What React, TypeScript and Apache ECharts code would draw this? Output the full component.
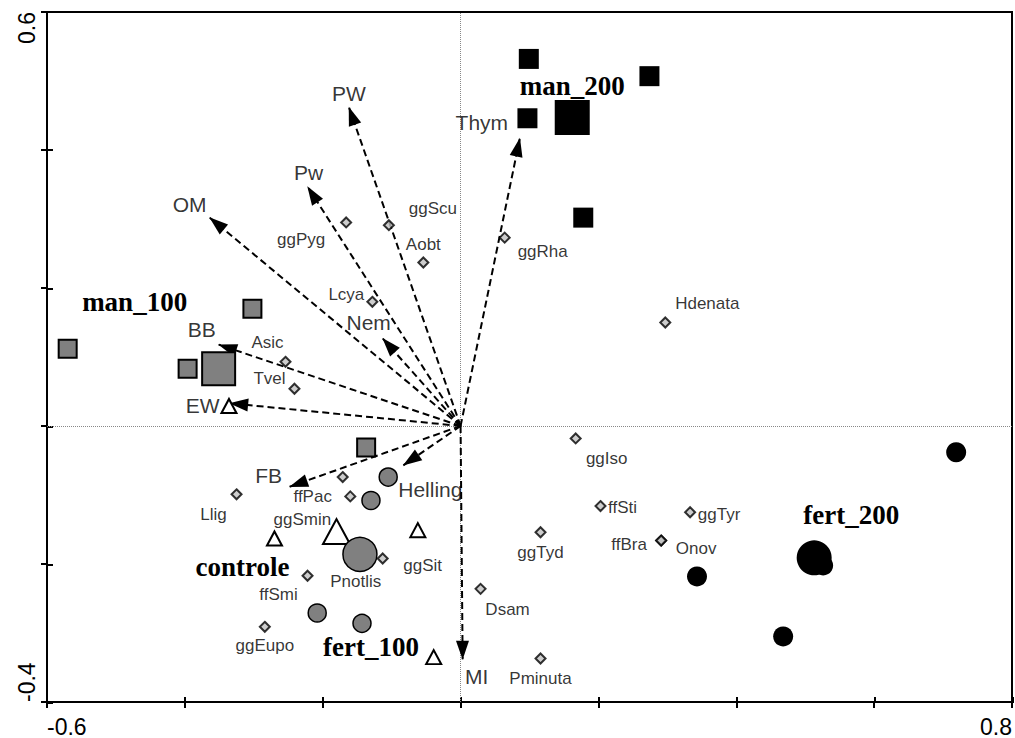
import React, { useEffect, useRef } from 'react';
import * as echarts from 'echarts';

// ---------- DATA ----------
const xTickLabels = ['-0.6', '0.8'];
const yTickLabels = ['-0.4', '0.6'];

const groupNames = ['man_200', 'man_100', 'controle', 'fert_100', 'fert_200'];

const man200Sites = [[0.099, 0.532], [0.274, 0.507], [0.097, 0.446], [0.178, 0.302]];
const man100Sites = [[-0.570, 0.112], [-0.302, 0.170], [-0.396, 0.083], [-0.137, -0.031]];
const controleSites = [[-0.336, 0.029], [-0.270, -0.163], [-0.062, -0.151], [-0.039, -0.335]];
const fert100Sites = [[-0.105, -0.074], [-0.130, -0.108], [-0.208, -0.271], [-0.143, -0.286]];
const fert200Sites = [[0.719, -0.038], [0.343, -0.218], [0.468, -0.305], [0.526, -0.202]];

const groupCentroids = [
  [0.162, 0.447],
  [-0.351, 0.083],
  [-0.180, -0.153],
  [-0.146, -0.186],
  [0.513, -0.191],
];

const speciesNames = ['ggPyg', 'ggScu', 'Aobt', 'ggRha', 'Lcya', 'Asic', 'Tvel', 'Hdenata', 'ggIso', 'ffSti', 'ggTyr', 'ffBra', 'Onov', 'ggTyd', 'Dsam', 'Pminuta', 'ggSit', 'Pnotlis', 'ffPac', 'ggSmin', 'Llig', 'ggEupo', 'ffSmi'];
const speciesX = [-0.166, -0.104, -0.054, 0.064, -0.128, -0.254, -0.241, 0.297, 0.167, 0.203, 0.333, 0.291, 0.291, 0.116, 0.029, 0.116, -0.113, -0.152, -0.171, -0.160, -0.325, -0.284, -0.222];
const speciesY = [0.295, 0.291, 0.237, 0.273, 0.180, 0.093, 0.054, 0.150, -0.018, -0.116, -0.125, -0.166, -0.166, -0.154, -0.236, -0.337, -0.192, -0.196, -0.074, -0.102, -0.099, -0.291, -0.217];

const envNames = ['PW', 'Pw', 'OM', 'BB', 'EW', 'FB', 'Nem', 'Helling', 'MI', 'Thym'];
const envX = [-0.162, -0.222, -0.364, -0.351, -0.335, -0.248, -0.113, -0.083, 0.003, 0.086];
const envY = [0.462, 0.347, 0.302, 0.118, 0.033, -0.088, 0.127, -0.057, -0.338, 0.417];

// ---------- LAYOUT / STYLE (label placement in px) ----------
const speciesLabelOffsets: Record<string, number[]> = {
  ggPyg: [-45, 17], ggScu: [44, -17], Aobt: [0, -18], ggRha: [38, 14], Lcya: [-26, -7],
  Asic: [-18, -19], Tvel: [-25, -10], Hdenata: [42, -19], ggIso: [31, 20], ffSti: [22, 1],
  ggTyr: [29, 2], ffBra: [-32, 4], Onov: [35, 8], ggTyd: [0, 20], Dsam: [27, 21],
  Pminuta: [0, 20], ggSit: [40, 7], Pnotlis: [0, 20], ffPac: [-30, 19], ggSmin: [-48, 23],
  Llig: [-23, 20], ggEupo: [0, 19], ffSmi: [-29, 19],
};
const envLabelOffsets: Record<string, number[]> = {
  PW: [0, -14], Pw: [1, -14], OM: [-20, -13], BB: [-17, -15], EW: [-27, 2],
  FB: [-21, -11], Nem: [-14, -16], Helling: [27, 24], MI: [14, 17], Thym: [-38, -16],
};
const groupLabelOffsets: Record<string, number[]> = {
  man_200: [0, -32], man_100: [-84, -67], controle: [-94, 35], fert_100: [11, 93], fert_200: [37, -43],
};
const groupStyles: Record<string, any> = {
  man_200: { symbol: 'rect', size: 20, csize: 35, color: '#000', border: 0 },
  man_100: { symbol: 'rect', size: 18, csize: 33, color: '#808080', border: 2 },
  controle: { symbol: 'triangle', size: [15, 14], csize: [27, 25], color: '#fff', border: 2 },
  fert_100: { symbol: 'circle', size: 18, csize: 34, color: '#808080', border: 1.5 },
  fert_200: { symbol: 'circle', size: 20, csize: 35, color: '#000', border: 0 },
};

const SANS = 'Liberation Sans, Arial, sans-serif';
const SERIF = 'Liberation Serif, Times New Roman, serif';
const plainText = { color: '#000', textBorderWidth: 0, textBorderColor: 'transparent', textShadowBlur: 0 };

function fmt(labels: string[]) {
  return (v: number) => {
    const s = String(Number(v.toFixed(1)));
    return labels.includes(s) ? s : '';
  };
}

export default function App() {
  const ref = useRef<HTMLDivElement>(null);
  useEffect(() => {
    if (!ref.current) return;
    const chart = echarts.init(ref.current, undefined, { renderer: 'svg' });
    const siteSets = [man200Sites, man100Sites, controleSites, fert100Sites, fert200Sites];
    const tickStyle = { color: '#000', width: 2 };
    const gridBox = { left: 47, top: 12, width: 966, height: 691 };

    const siteSeries: any[] = [];
    groupNames.forEach((g, i) => {
      const st = groupStyles[g];
      const itemStyle = { color: st.color, borderColor: '#000', borderWidth: st.border, opacity: 1 };
      siteSeries.push({
        type: 'scatter', name: g, z: 6, symbol: st.symbol, symbolSize: st.size,
        itemStyle, data: siteSets[i], silent: true,
      });
      siteSeries.push({
        type: 'scatter', name: g + ' centroid', z: 7, symbol: st.symbol, symbolSize: st.csize,
        itemStyle, silent: true,
        data: [{
          value: groupCentroids[i], name: g,
          label: {
            show: true, position: 'inside', formatter: g, offset: groupLabelOffsets[g],
            fontFamily: SERIF, fontWeight: 'bold', fontSize: 27, ...plainText,
          },
        }],
      });
    });

    const option: any = {
      animation: false,
      grid: [
        { ...gridBox, show: true, borderColor: '#000', borderWidth: 2, backgroundColor: 'transparent' },
        { ...gridBox, show: false },
      ],
      xAxis: [
        {
          type: 'value', gridIndex: 0, min: -0.6, max: 0.8, interval: 0.2, position: 'bottom', splitLine: { show: false },
          axisLine: { show: true, onZero: false, lineStyle: { color: '#000', width: 2 } },
          axisTick: { show: true, length: 6, lineStyle: tickStyle },
          axisLabel: {
            show: true, formatter: fmt(xTickLabels), fontFamily: SANS, fontSize: 23, color: '#000', margin: 13,
            alignMinLabel: 'left', alignMaxLabel: 'right', showMinLabel: true, showMaxLabel: true,
          },
        },
        {
          type: 'value', gridIndex: 1, min: -0.6, max: 0.8, interval: 0.2, position: 'bottom', splitLine: { show: false },
          axisLine: { show: false, onZero: false }, axisTick: { show: true, inside: true, length: 6, lineStyle: tickStyle },
          axisLabel: { show: false },
        },
      ],
      yAxis: [
        {
          type: 'value', gridIndex: 0, min: -0.4, max: 0.6, interval: 0.2, position: 'left', splitLine: { show: false },
          axisLine: { show: true, onZero: false, lineStyle: { color: '#000', width: 2 } },
          axisTick: { show: true, length: 6, lineStyle: tickStyle },
          axisLabel: {
            show: true, formatter: fmt(yTickLabels), fontFamily: SANS, fontSize: 23, color: '#000', margin: 9, rotate: 90,
            alignMinLabel: 'left', alignMaxLabel: 'right', showMinLabel: true, showMaxLabel: true,
          },
        },
        {
          type: 'value', gridIndex: 1, min: -0.4, max: 0.6, interval: 0.2, position: 'left', splitLine: { show: false },
          axisLine: { show: false, onZero: false }, axisTick: { show: true, inside: true, length: 6, lineStyle: tickStyle },
          axisLabel: { show: false },
        },
      ],
      series: [
        {
          type: 'scatter', name: 'ticks', xAxisIndex: 1, yAxisIndex: 1, data: [], silent: true,
        },
        {
          type: 'scatter', name: 'axes0', data: [], silent: true,
          markLine: {
            silent: true, z: 1, symbol: ['none', 'none'], label: { show: false },
            lineStyle: { color: '#888', width: 1, type: [1, 1] },
            emphasis: { disabled: true },
            data: [{ xAxis: 0 }, { yAxis: 0 }],
          },
        },
        {
          type: 'scatter', name: 'env', z: 4, silent: true, symbolSize: 1,
          itemStyle: { color: 'transparent' },
          data: envNames.map((n, i) => ({
            value: [envX[i], envY[i]], name: n,
            label: {
              show: true, position: 'inside', formatter: n, offset: envLabelOffsets[n],
              fontFamily: SANS, fontSize: 21, ...plainText,
            },
          })),
          markLine: {
            silent: true, z: 2, symbol: ['none', 'triangle'], label: { show: false },
            emphasis: { disabled: true },
            lineStyle: { color: '#000', width: 2, type: [7, 4] },
            data: envNames.map((n, i) => [
              { coord: [0, 0], symbol: 'none' },
              { coord: [envX[i], envY[i]], symbol: 'triangle', symbolSize: [13, 19], symbolOffset: [0, 9], itemStyle: { color: '#000' } },
            ]),
          },
        },
        {
          type: 'scatter', name: 'species', z: 5, silent: true, symbol: 'diamond', symbolSize: 10,
          itemStyle: { color: '#c0c0c0', borderColor: '#000', borderWidth: 2 },
          data: speciesNames.map((n, i) => ({
            value: [speciesX[i], speciesY[i]], name: n,
            label: {
              show: true, position: 'inside', formatter: n, offset: speciesLabelOffsets[n],
              fontFamily: SANS, fontSize: 17, ...plainText,
            },
          })),
        },
        ...siteSeries,
      ],
    };
    chart.setOption(option);
    return () => chart.dispose();
  }, []);
  return <div ref={ref} style={{ position: 'absolute', left: 0, top: 0, width: 1015, height: 738, background: '#fff' }} />;
}
